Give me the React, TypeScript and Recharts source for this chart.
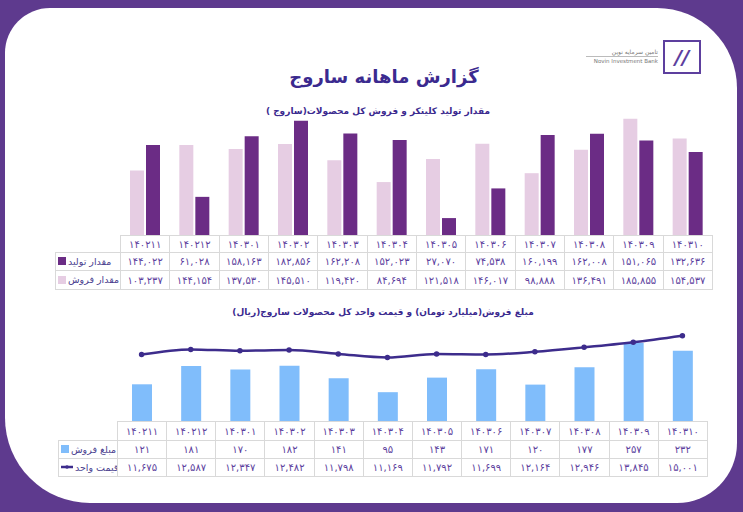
import { BarChart, Bar, XAxis, YAxis, ComposedChart, Line } from 'recharts';

const months = ['۱۴۰۲۱۱', '۱۴۰۲۱۲', '۱۴۰۳۰۱', '۱۴۰۳۰۲', '۱۴۰۳۰۳', '۱۴۰۳۰۴', '۱۴۰۳۰۵', '۱۴۰۳۰۶', '۱۴۰۳۰۷', '۱۴۰۳۰۸', '۱۴۰۳۰۹', '۱۴۰۳۱۰'];
// clinker production and product sales (tons)
const production = [144022, 61028, 158163, 182856, 162208, 152023, 27070, 74538, 160199, 162008, 151065, 132636];
const sales = [103237, 144154, 137530, 145510, 119420, 84694, 121518, 146017, 98888, 136491, 185855, 154537];
// sales amount (billion toman) and unit price (rial)
const salesAmount = [121, 181, 170, 182, 141, 95, 143, 171, 120, 177, 257, 232];
const unitPrice = [11675, 12587, 12347, 12482, 11798, 11169, 11792, 11699, 12164, 12946, 13845, 15001];

const C = {
  frame: '#5e3a8e',
  light: '#e6cde3',
  dark: '#6b2c85',
  blue: '#80bdfb',
  line: '#3d2c8c',
  text: '#5d3f9e',
  title: '#3b2a8f',
  grid: '#d9d9d9',
};

const FONT = '"DejaVu Sans", sans-serif';

const fa = (n: number) =>
  n.toLocaleString('en-US').replace(/\d/g, (d) => '۰۱۲۳۴۵۶۷۸۹'[+d]);

const topData = months.map((m, i) => ({ month: m, production: production[i], sales: sales[i] }));
const bottomData = months.map((m, i) => ({ month: m, amount: salesAmount[i], price: unitPrice[i] }));

type Row = { label: string; key: React.ReactNode; values: string[] };

const DataTable = ({
  left, top, labelW, colW, rowH, rows,
}: { left: number; top: number; labelW: number; colW: number; rowH: number[]; rows: Row[] }) => {
  const cell: React.CSSProperties = {
    border: `1px solid ${C.grid}`,
    color: C.text,
    fontSize: 10,
    textAlign: 'center',
    padding: 0,
    overflow: 'hidden',
    whiteSpace: 'nowrap',
  };
  return (
    <table
      style={{
        position: 'absolute', left, top, borderCollapse: 'collapse', tableLayout: 'fixed',
        width: labelW + colW * months.length, fontFamily: FONT,
      }}
    >
      <colgroup>
        <col style={{ width: labelW }} />
        {months.map((m) => <col key={m} style={{ width: colW }} />)}
      </colgroup>
      <tbody>
        <tr style={{ height: rowH[0] }}>
          <td style={{ ...cell, border: 'none', borderRight: `1px solid ${C.grid}` }} />
          {months.map((m) => <td key={m} style={cell}>{m}</td>)}
        </tr>
        {rows.map((r, ri) => (
          <tr key={r.label} style={{ height: rowH[ri + 1] }}>
            <td style={{ ...cell, fontSize: 9.5, textAlign: 'left', paddingLeft: 2, color: '#4b3f8f' }}>
              <span style={{ display: 'inline-flex', alignItems: 'center', gap: 2 }}>
                {r.key}
                <span dir="rtl">{r.label}</span>
              </span>
            </td>
            {r.values.map((v, i) => <td key={i} style={cell}>{v}</td>)}
          </tr>
        ))}
      </tbody>
    </table>
  );
};

const Square = ({ color }: { color: string }) => (
  <span style={{ display: 'inline-block', width: 8, height: 8, background: color, flexShrink: 0 }} />
);

const LineKey = () => (
  <svg width={12} height={8} style={{ flexShrink: 0 }}>
    <line x1={0} y1={4} x2={12} y2={4} stroke={C.line} strokeWidth={2.5} />
    <circle cx={6} cy={4} r={1.8} fill={C.line} />
  </svg>
);

export default function App() {
  return (
    <div style={{ position: 'absolute', left: 0, top: 0, width: 743, height: 512, background: C.frame, overflow: 'hidden', fontFamily: FONT }}>
      <div
        style={{
          position: 'absolute', left: 5, top: 8, width: 732, height: 495, background: '#fff',
          borderRadius: '45px 80px 60px 85px',
        }}
      />

      {/* logo */}
      <div style={{ position: 'absolute', left: 663, top: 40, width: 34, height: 30, border: `2px solid ${C.text}`, color: C.text, fontSize: 20, fontWeight: 'bold', fontStyle: 'italic', textAlign: 'center', lineHeight: '30px' }}>//</div>
      <div style={{ position: 'absolute', left: 586, top: 47, width: 72, fontSize: 6, color: '#777', textAlign: 'right', lineHeight: '9px' }}>
        <div dir="rtl">تامین سرمایه نوین</div>
        <div style={{ borderTop: '1px solid #bbb', fontSize: 5.5 }}>Novin Investment Bank</div>
      </div>

      <div dir="rtl" style={{ position: 'absolute', left: 0, width: 768, top: 66, textAlign: 'center', fontSize: 18, fontWeight: 'bold', color: C.title }}>
        گزارش ماهانه ساروج
      </div>
      <div dir="rtl" style={{ position: 'absolute', left: 0, width: 756, top: 106, textAlign: 'center', fontSize: 9, fontWeight: 'bold', color: C.title }}>
        مقدار تولید کلینکر و فروش کل محصولات(ساروج )
      </div>

      <div style={{ position: 'absolute', left: 120, top: 110 }}>
        <BarChart width={592} height={125} data={topData} margin={{ top: 0, right: 0, left: 0, bottom: 0 }} barGap={2}>
          <XAxis dataKey="month" hide />
          <YAxis hide domain={[0, 200000]} />
          <Bar dataKey="sales" fill={C.light} barSize={14} isAnimationActive={false} />
          <Bar dataKey="production" fill={C.dark} barSize={14} isAnimationActive={false} />
        </BarChart>
      </div>

      <DataTable
        left={55} top={235} labelW={65} colW={49.33} rowH={[17, 18, 19]}
        rows={[
          { label: 'مقدار تولید', key: <Square color={C.dark} />, values: production.map(fa) },
          { label: 'مقدار فروش', key: <Square color={C.light} />, values: sales.map(fa) },
        ]}
      />

      <div dir="rtl" style={{ position: 'absolute', left: 0, width: 766, top: 307, textAlign: 'center', fontSize: 9, fontWeight: 'bold', color: C.title }}>
        مبلغ فروش(میلیارد تومان) و قیمت واحد کل محصولات ساروج(ریال)
      </div>

      <div style={{ position: 'absolute', left: 117, top: 330 }}>
        <ComposedChart width={590} height={91} data={bottomData} margin={{ top: 0, right: 0, left: 0, bottom: 0 }}>
          <XAxis dataKey="month" hide />
          <YAxis yAxisId="amt" hide domain={[0, 300]} />
          <YAxis yAxisId="price" hide domain={[0, 16000]} />
          <Bar yAxisId="amt" dataKey="amount" fill={C.blue} barSize={20} isAnimationActive={false} />
          <Line yAxisId="price" dataKey="price" type="monotone" stroke={C.line} strokeWidth={2.5}
            dot={{ r: 1.5, fill: C.line, stroke: C.line }} isAnimationActive={false} />
        </ComposedChart>
      </div>

      <DataTable
        left={58} top={421} labelW={59} colW={49.17} rowH={[19, 18, 18]}
        rows={[
          { label: 'مبلغ فروش', key: <Square color={C.blue} />, values: salesAmount.map(fa) },
          { label: 'قیمت واحد', key: <LineKey />, values: unitPrice.map(fa) },
        ]}
      />
    </div>
  );
}
